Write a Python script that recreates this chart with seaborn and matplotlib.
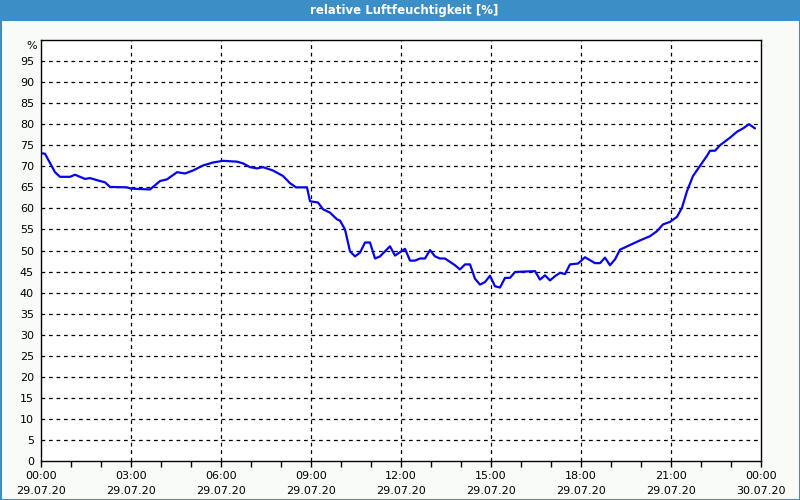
import numpy as np
import pandas as pd
import matplotlib
matplotlib.use("Agg")
import matplotlib.pyplot as plt
import matplotlib.dates as mdates
from matplotlib.patches import Rectangle
import seaborn as sns

# minutes after 29.07.20 00:00
minutes = [0, 8, 28, 38, 58, 68, 88, 98, 118, 128, 138, 172, 180, 218, 238, 252, 272, 288,
           304, 324, 344, 364, 392, 404, 418, 432, 444, 464, 484, 498, 510, 532, 538, 554,
           564, 578, 592, 598, 608, 618, 628, 638, 648, 658, 668, 678, 688, 698, 708, 718,
           728, 738, 748, 758, 768, 778, 788, 798, 808, 818, 828, 838, 848, 858, 868, 878,
           888, 898, 908, 918, 928, 938, 948, 988, 998, 1008, 1018, 1028, 1038, 1048, 1058,
           1074, 1088, 1098, 1108, 1118, 1128, 1138, 1148, 1158, 1178, 1198, 1218, 1232,
           1244, 1258, 1272, 1282, 1292, 1304, 1318, 1332, 1338, 1348, 1358, 1378, 1392,
           1404, 1416, 1428]
humidity = [73.1, 73.0, 68.6, 67.5, 67.5, 68.0, 67.0, 67.2, 66.5, 66.2, 65.1, 65.0, 64.7,
            64.5, 66.5, 66.9, 68.6, 68.3, 69.0, 70.2, 70.9, 71.3, 71.1, 70.7, 69.8, 69.5,
            69.8, 69.0, 67.7, 66.0, 65.0, 65.0, 61.7, 61.4, 59.8, 59.0, 57.4, 57.1, 55.0,
            49.8, 48.6, 49.5, 51.9, 51.9, 48.1, 48.6, 49.8, 51.0, 48.8, 49.6, 50.4, 47.6,
            47.6, 48.1, 48.1, 50.1, 48.6, 48.1, 48.1, 47.3, 46.5, 45.5, 46.7, 46.7, 43.3,
            41.9, 42.5, 44.0, 41.5, 41.2, 43.5, 43.5, 44.9, 45.1, 43.1, 44.1, 42.9, 43.9,
            44.7, 44.4, 46.7, 46.9, 48.4, 47.7, 47.0, 47.0, 48.3, 46.5, 47.9, 50.2, 51.3,
            52.4, 53.4, 54.6, 56.2, 56.8, 58.0, 60.2, 64.1, 67.7, 70.1, 72.5, 73.7, 73.7,
            75.0, 76.8, 78.2, 79.0, 80.0, 79.0]
title = "relative Luftfeuchtigkeit [%]"
y_ticks = list(range(0, 100, 5))

start = pd.Timestamp("2020-07-29 00:00")
df = pd.DataFrame({"time": start + pd.to_timedelta(minutes, unit="m"),
                   "rh": humidity})

sns.set_style("white")
plt.rcParams["font.family"] = ["DejaVu Sans"]

fig = plt.figure(figsize=(8, 5), dpi=100)
fig.patch.set_facecolor("#f9fbf9")

# title bar and frame
fig.add_artist(Rectangle((0, 1 - 21 / 500), 1, 21 / 500, transform=fig.transFigure,
                         facecolor="#3b8fc6", edgecolor="none", zorder=0))
fig.add_artist(Rectangle((0.5 / 800, 0.5 / 500), 799 / 800, 499 / 500, transform=fig.transFigure,
                         facecolor="none", edgecolor="#3b8fc6", linewidth=1.5, zorder=5))
fig.text(0.505, 1 - 10.5 / 500, title, color="white", fontsize=8.5, fontweight="bold",
         ha="center", va="center")

ax = fig.add_axes([41 / 800, 39 / 500, 720 / 800, 421 / 500])
ax.set_facecolor("white")
sns.lineplot(data=df, x="time", y="rh", ax=ax, color="#0505e8", linewidth=1.6)

ax.set_xlim(start, start + pd.Timedelta(hours=24))
ax.set_ylim(0, 100)
ax.set_yticks(y_ticks)
ax.set_yticklabels([str(v) for v in y_ticks])
ax.set_xlabel("")
ax.set_ylabel("")

major = [start + pd.Timedelta(hours=h) for h in range(0, 25, 3)]
minor = [start + pd.Timedelta(hours=h) for h in range(0, 25)]
ax.set_xticks(major)
ax.set_xticklabels([t.strftime("%H:%M") + "\n" + t.strftime("%d.%m.%y") for t in major],
                   linespacing=1.6)
ax.set_xticks(minor, minor=True)

ax.tick_params(axis="x", which="both", direction="out", length=4, width=1, color="black",
               labelsize=8, labelcolor="black", pad=3, bottom=True)
ax.tick_params(axis="y", length=0, labelsize=8, labelcolor="black", pad=5)

for v in y_ticks[1:]:
    ax.axhline(v, color="black", linewidth=0.9, linestyle=(0, (3, 3)), zorder=1)
for t in major[1:-1]:
    ax.axvline(t, color="black", linewidth=0.9, linestyle=(0, (3, 3)), zorder=1)

for s in ax.spines.values():
    s.set_visible(True)
    s.set_color("black")
    s.set_linewidth(1)

ax.text(-0.006, 98.5, "%", transform=ax.get_yaxis_transform(), ha="right", va="center",
        fontsize=8, color="black")

fig.savefig("out.png", dpi=100, facecolor=fig.get_facecolor())
